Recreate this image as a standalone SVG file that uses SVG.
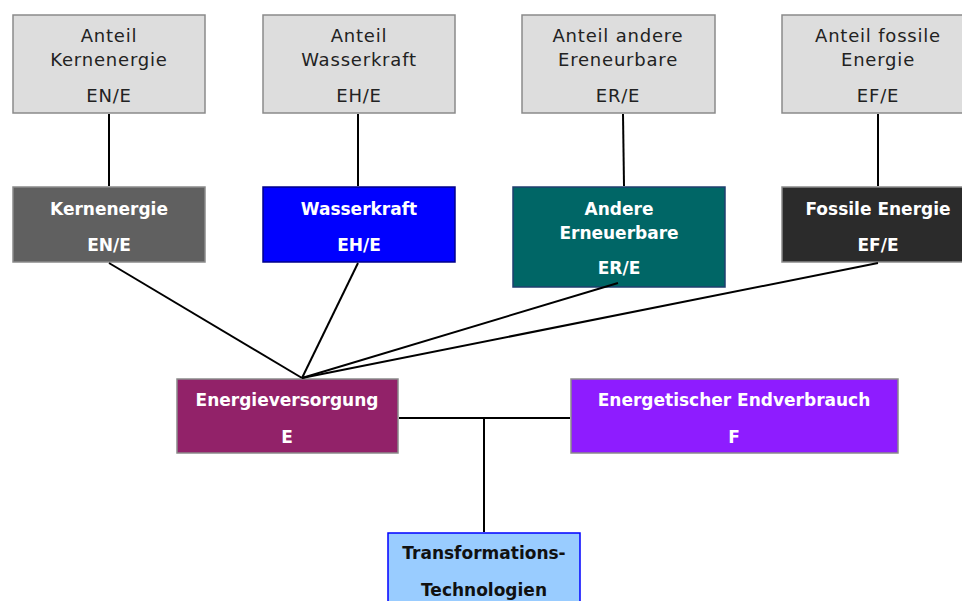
<svg xmlns="http://www.w3.org/2000/svg" width="962" height="601" viewBox="0 0 962 601">
<style>
.t{font-family:"DejaVu Sans","Liberation Sans",sans-serif;font-size:18px;text-anchor:middle}
.g{fill:#222;letter-spacing:0.8px}
.w{fill:#fff;font-weight:bold;font-size:17px}
.d{fill:#111;font-weight:bold;font-size:17px}
.c{stroke:#000;stroke-width:2;fill:none}
</style>
<rect width="962" height="601" fill="#fff"/>
<g id="anteil-kern">
<rect x="13" y="15" width="192" height="98" fill="#dddddd" stroke="#8a8a8a" stroke-width="1.5"/>
<text class="t g" x="109" y="42">Anteil</text>
<text class="t g" x="109" y="66">Kernenergie</text>
<text class="t g" x="109" y="102">EN/E</text>
</g>
<g id="anteil-wasser">
<rect x="263" y="15" width="192" height="98" fill="#dddddd" stroke="#8a8a8a" stroke-width="1.5"/>
<text class="t g" x="359" y="42">Anteil</text>
<text class="t g" x="359" y="66">Wasserkraft</text>
<text class="t g" x="359" y="102">EH/E</text>
</g>
<g id="anteil-andere">
<rect x="522" y="15" width="193" height="98" fill="#dddddd" stroke="#8a8a8a" stroke-width="1.5"/>
<text class="t g" x="618" y="42">Anteil andere</text>
<text class="t g" x="618" y="66">Ereneurbare</text>
<text class="t g" x="618" y="102">ER/E</text>
</g>
<g id="anteil-fossil">
<rect x="782" y="15" width="192" height="98" fill="#dddddd" stroke="#8a8a8a" stroke-width="1.5"/>
<text class="t g" x="878" y="42">Anteil fossile</text>
<text class="t g" x="878" y="66">Energie</text>
<text class="t g" x="878" y="102">EF/E</text>
</g>
<g id="kernenergie">
<rect x="13" y="187" width="192" height="75" fill="#606060" stroke="#8a8a8a" stroke-width="1.5"/>
<text class="t w" x="109" y="215">Kernenergie</text>
<text class="t w" x="109" y="251">EN/E</text>
</g>
<g id="wasserkraft">
<rect x="263" y="187" width="192" height="75" fill="#0000ff" stroke="#00008b" stroke-width="1.5"/>
<text class="t w" x="359" y="215">Wasserkraft</text>
<text class="t w" x="359" y="251">EH/E</text>
</g>
<g id="andere">
<rect x="513" y="187" width="212" height="100" fill="#006666" stroke="#1f3f6f" stroke-width="1.5"/>
<text class="t w" x="619" y="215">Andere</text>
<text class="t w" x="619" y="239">Erneuerbare</text>
<text class="t w" x="619" y="274">ER/E</text>
</g>
<g id="fossil">
<rect x="782" y="187" width="192" height="75" fill="#2b2b2b" stroke="#8a8a8a" stroke-width="1.5"/>
<text class="t w" x="878" y="215">Fossile Energie</text>
<text class="t w" x="878" y="251">EF/E</text>
</g>
<g id="energieversorgung">
<rect x="177" y="379" width="221" height="74" fill="#922269" stroke="#8a8a8a" stroke-width="1.5"/>
<text class="t w" x="287" y="406">Energieversorgung</text>
<text class="t w" x="287" y="443">E</text>
</g>
<g id="endverbrauch">
<rect x="571" y="379" width="327" height="74" fill="#8e1cff" stroke="#8a8a8a" stroke-width="1.5"/>
<text class="t w" x="734" y="406">Energetischer Endverbrauch</text>
<text class="t w" x="734" y="443">F</text>
</g>
<g id="transformation">
<rect x="388" y="533" width="192" height="80" fill="#99ccff" stroke="#0000ff" stroke-width="1.5"/>
<text class="t d" x="484" y="559">Transformations-</text>
<text class="t d" x="484" y="596">Technologien</text>
</g>
<g id="connectors" class="c">
<line x1="109" y1="114" x2="109" y2="186"/>
<line x1="358" y1="114" x2="358" y2="186"/>
<line x1="623" y1="114" x2="624" y2="186"/>
<line x1="878" y1="114" x2="878" y2="186"/>
<line x1="109" y1="263" x2="302" y2="378"/>
<line x1="358" y1="263" x2="302" y2="378"/>
<line x1="618" y1="283" x2="302" y2="378"/>
<line x1="878" y1="263" x2="302" y2="378"/>
<line x1="399" y1="418" x2="570" y2="418"/>
<line x1="484" y1="418" x2="484" y2="532"/>
</g>
</svg>
